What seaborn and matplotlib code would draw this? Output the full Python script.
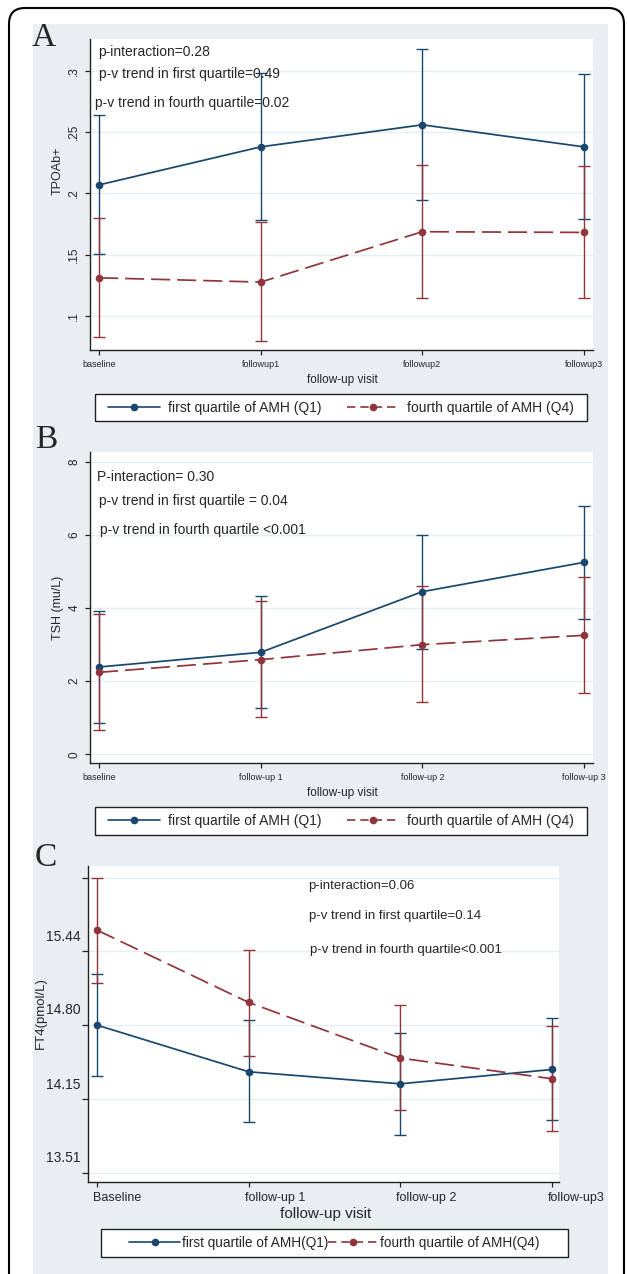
import numpy as np
import pandas as pd
import matplotlib
matplotlib.use('Agg')
import matplotlib.pyplot as plt
from matplotlib.lines import Line2D
from matplotlib.patches import Rectangle, FancyBboxPatch
import matplotlib.transforms as mtransforms
import seaborn as sns

# ---- data ----
groups = ['first quartile of AMH (Q1)', 'fourth quartile of AMH (Q4)']

a_visits = ['baseline', 'followup1', 'followup2', 'followup3']
a_q1 = [0.207, 0.238, 0.256, 0.238]
a_q1_lo = [0.1505, 0.178, 0.1948, 0.1788]
a_q1_hi = [0.2639, 0.298, 0.318, 0.2973]
a_q4 = [0.1312, 0.1277, 0.1688, 0.1682]
a_q4_lo = [0.0832, 0.0796, 0.115, 0.115]
a_q4_hi = [0.1796, 0.1769, 0.2234, 0.222]
a_yticks = [0.1, 0.15, 0.2, 0.25, 0.3]
a_yticklabels = ['.1', '.15', '.2', '.25', '.3']
a_notes = ['p-interaction=0.28', 'p-v trend in first quartile=0.49', 'p-v trend in fourth quartile=0.02']

b_visits = ['baseline', 'follow-up 1', 'follow-up 2', 'follow-up 3']
b_q1 = [2.387, 2.788, 4.446, 5.248]
b_q1_lo = [0.866, 1.276, 2.89, 3.699]
b_q1_hi = [3.909, 4.328, 6.0, 6.779]
b_q4 = [2.241, 2.588, 2.998, 3.253]
b_q4_lo = [0.665, 1.02, 1.421, 1.667]
b_q4_hi = [3.836, 4.191, 4.592, 4.838]
b_yticks = [0, 2, 4, 6, 8]
b_yticklabels = ['0', '2', '4', '6', '8']
b_notes = ['P-interaction= 0.30', 'p-v trend in first quartile = 0.04', 'p-v trend in fourth quartile <0.001']

c_visits = ['Baseline', 'follow-up 1', 'follow-up 2', 'follow-up3']
c_q1 = [14.798, 14.391, 14.286, 14.411]
c_q1_lo = [14.356, 13.949, 13.844, 13.972]
c_q1_hi = [15.246, 14.839, 14.731, 14.856]
c_q4 = [15.626, 14.996, 14.510, 14.330]
c_q4_lo = [15.167, 14.530, 14.054, 13.873]
c_q4_hi = [16.083, 15.455, 14.969, 14.792]
c_yticks = [13.51, 14.15, 14.80, 15.44, 16.08]
c_yticklabels = ['13.51', '14.15', '14.80', '15.44', '']
c_notes = ['p-interaction=0.06', 'p-v trend in first quartile=0.14', 'p-v trend in fourth quartile<0.001']
c_groups = ['first quartile of AMH(Q1)', 'fourth quartile of AMH(Q4)']

navy = '#1a476f'
maroon = '#90353b'
bg = '#e8eef1'
grid = '#e6eef1'

sns.set_theme(style='white')
plt.rcParams['font.family'] = ['Liberation Sans', 'DejaVu Sans']

W, H = 627, 1274
fig = plt.figure(figsize=(W / 100, H / 100), dpi=100)


def px_box(l, t, r, b):
    return [l / W, 1 - b / H, (r - l) / W, (b - t) / H]


# outer rounded frame and the grey graph region
frame = FancyBboxPatch((9 / 100, -0.5), 615 / 100, (H - 8) / 100 + 0.5,
                       boxstyle='round,pad=0,rounding_size=0.16',
                       transform=fig.dpi_scale_trans, fc='white', ec='black', lw=1.5, zorder=-3)
fig.add_artist(frame)
fig.add_artist(Rectangle((33 / 100, -0.1), (608 - 33) / 100, (H - 24) / 100 + 0.1,
                         transform=fig.dpi_scale_trans, fc=bg, ec='none', zorder=-2))


def panel(box, visits, q1, q1_lo, q1_hi, q4, q4_lo, q4_hi, xlim, ylim, labels):
    ax = fig.add_axes(px_box(*box))
    pos = np.arange(1, len(visits) + 1)
    df = pd.DataFrame({
        'pos': np.concatenate([pos, pos]),
        'value': np.concatenate([q1, q4]),
        'group': [labels[0]] * len(pos) + [labels[1]] * len(pos),
    })
    # confidence intervals as capped spikes
    ax.errorbar(pos, q1, yerr=[np.array(q1) - np.array(q1_lo), np.array(q1_hi) - np.array(q1)],
                fmt='none', ecolor=navy, elinewidth=1.0, capsize=4.5, capthick=1.0, zorder=2)
    ax.errorbar(pos, q4, yerr=[np.array(q4) - np.array(q4_lo), np.array(q4_hi) - np.array(q4)],
                fmt='none', ecolor=maroon, elinewidth=1.0, capsize=4.5, capthick=1.0, zorder=2)
    sns.lineplot(data=df, x='pos', y='value', hue='group', style='group',
                 palette=[navy, maroon], dashes={labels[0]: '', labels[1]: (11, 4)},
                 markers={labels[0]: 'o', labels[1]: 'o'}, markersize=5.5, markeredgewidth=0,
                 linewidth=1.25, errorbar=None, legend=False, ax=ax, zorder=3)
    ax.set_xlim(*xlim)
    ax.set_ylim(*ylim)
    ax.set_xticks(pos)
    ax.set_xlabel('')
    ax.set_ylabel('')
    ax.set_facecolor('white')
    for s in ['top', 'right']:
        ax.spines[s].set_visible(False)
    for s in ['left', 'bottom']:
        ax.spines[s].set_color('#222222')
        ax.spines[s].set_linewidth(1.0)
    ax.tick_params(axis='both', direction='out', length=3.5, width=0.9, color='#222222',
                   left=True, bottom=True)
    return ax


def add_legend(ax, box, labels, fs, hl, htp, cs, legend_dash):
    l, t, r, b = box
    fig.add_artist(Rectangle((l / 100, (H - b) / 100), (r - l) / 100, (b - t) / 100,
                             transform=fig.dpi_scale_trans, fc='white', ec='#222222', lw=1.0,
                             zorder=-1))
    handles = [Line2D([], [], color=navy, lw=1.2, marker='o', ms=5.5, mew=0),
               Line2D([], [], color=maroon, lw=1.2, marker='o', ms=5.5, mew=0, dashes=legend_dash)]
    leg = ax.legend(handles, labels, loc='center',
                    bbox_to_anchor=((l + r) / 2 / W, 1 - (t + b) / 2 / H),
                    bbox_transform=fig.transFigure, ncol=2, frameon=False, fontsize=fs,
                    handlelength=hl, handletextpad=htp, columnspacing=cs, borderpad=0.2)
    leg.set_zorder(10)


# ---------------- panel A ----------------
axA = panel((90, 39, 593, 350), a_visits, a_q1, a_q1_lo, a_q1_hi, a_q4, a_q4_lo, a_q4_hi,
            (0.944, 4.056), (0.0723, 0.326), groups)
axA.set_yticks(a_yticks)
axA.set_yticklabels(a_yticklabels, rotation=90, va='center', fontsize=8.5)
axA.set_xticklabels(a_visits, fontsize=6.5)
axA.grid(axis='y', color=grid, lw=1.0)
axA.set_axisbelow(True)
for txt, x, y in zip(a_notes, [0.994, 1.0, 0.975], [0.3155, 0.2973, 0.2734]):
    axA.text(x, y, txt, fontsize=10, ha='left', va='center', zorder=5)
fig.text(58 / W, 1 - 171 / H, 'TPOAb+', rotation=90, ha='center', va='center', fontsize=9)
fig.text(342 / W, 1 - 380 / H, 'follow-up visit', ha='center', va='center', fontsize=8.5)
fig.text(44 / W, 1 - 38 / H, 'A', family='Liberation Serif', fontsize=24, ha='center', va='center')
add_legend(axA, (95, 394, 587, 421), groups, 10, 3.75, 0.6, 1.8, (5, 3))

# ---------------- panel B ----------------
axB = panel((90, 452, 593, 763), b_visits, b_q1, b_q1_lo, b_q1_hi, b_q4, b_q4_lo, b_q4_hi,
            (0.944, 4.056), (-0.238, 8.265), groups)
axB.set_yticks(b_yticks)
axB.set_yticklabels(b_yticklabels, rotation=90, va='center', fontsize=8.5)
axB.set_xticklabels(b_visits, fontsize=6.5)
axB.grid(axis='y', color=grid, lw=1.0)
axB.set_axisbelow(True)
for txt, x, y in zip(b_notes, [0.988, 1.0, 1.006], [7.57, 6.925, 6.132]):
    axB.text(x, y, txt, fontsize=10, ha='left', va='center', zorder=5)
fig.text(58 / W, 1 - 608 / H, 'TSH (mu/L)', rotation=90, ha='center', va='center', fontsize=9)
fig.text(342 / W, 1 - 793 / H, 'follow-up visit', ha='center', va='center', fontsize=8.5)
fig.text(46 / W, 1 - 440 / H, 'B', family='Liberation Serif', fontsize=24, ha='center', va='center')
add_legend(axB, (95, 807, 587, 835), groups, 10, 3.75, 0.6, 1.8, (5, 3))

# ---------------- panel C ----------------
axC = panel((88, 866, 559, 1182), c_visits, c_q1, c_q1_lo, c_q1_hi, c_q4, c_q4_lo, c_q4_hi,
            (0.941, 4.046), (13.43, 16.185), c_groups)
axC.set_yticks(c_yticks)
axC.set_yticklabels(c_yticklabels, fontsize=10)
axC.tick_params(axis='y', length=4.5, pad=1)
# tick labels in C sit above their ticks
shift = mtransforms.ScaledTranslation(0, 16 / 100, fig.dpi_scale_trans)
for lab in axC.get_yticklabels():
    lab.set_transform(lab.get_transform() + shift)
axC.set_xticklabels(c_visits, fontsize=9, ha='left')
shiftx = mtransforms.ScaledTranslation(-4 / 100, 0, fig.dpi_scale_trans)
for lab in axC.get_xticklabels():
    lab.set_transform(lab.get_transform() + shiftx)
axC.grid(axis='y', color=grid, lw=1.0)
axC.set_axisbelow(True)
for txt, x, y in zip(c_notes, [2.391, 2.398, 2.407], [16.01, 15.749, 15.452]):
    axC.text(x, y, txt, fontsize=9.5, ha='left', va='center', zorder=5)
fig.text(41 / W, 1 - 1013 / H, 'FT4(pmol/L)', rotation=90, ha='center', va='center', fontsize=9.5)
fig.text(326 / W, 1 - 1214 / H, 'follow-up visit', ha='center', va='center', fontsize=11)
fig.text(46 / W, 1 - 858 / H, 'C', family='Liberation Serif', fontsize=24, ha='center', va='center')
add_legend(axC, (101, 1229, 568, 1257), c_groups, 9.8, 3.75, 0.1, 0.0, (5, 3))

fig.savefig('out.png', dpi=100)
